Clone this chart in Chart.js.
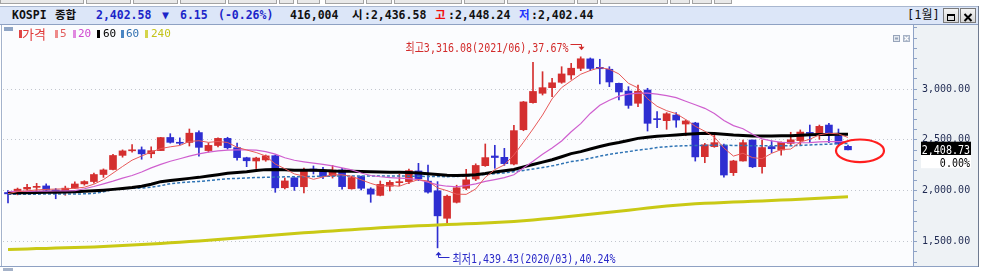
<!DOCTYPE html>
<html lang="ko"><head><meta charset="utf-8">
<title>KOSPI 종합</title>
<script src="https://cdn.jsdelivr.net/npm/chart.js@4.4.1/dist/chart.umd.min.js"></script>
<style>
html,body{margin:0;padding:0;background:#fff;}
body{width:981px;height:271px;position:relative;overflow:hidden;font-family:"DejaVu Sans Mono","Noto Sans CJK KR",monospace;}
.tb{position:absolute;top:0;height:3px;background:#e9e9e9;border:1px solid #a3a3a3;border-top:none;}
#hdr{position:absolute;left:0;top:6px;width:978px;height:17px;background:#dce6f8;border-top:1px solid #a9b7cf;border-bottom:1px solid #8ea1c3;}
.h{position:absolute;top:7px;line-height:17px;font-size:11.5px;font-weight:bold;color:#111;white-space:nowrap;}
.bl{color:#1b25c9;}
.lg{position:absolute;top:27px;line-height:14px;font-size:11px;white-space:nowrap;}
.mk{position:absolute;top:30px;width:3px;height:8px;}
#cv{position:absolute;left:0;top:25px;}
.btn{position:absolute;top:8px;width:14px;height:13px;border:1px solid #7a7a7a;background:linear-gradient(#f4f4f4,#d6d6d6);}
.ico{position:absolute;top:27px;width:7px;height:7px;}
</style></head><body>
<div id="tbar"></div>
<div id="hdr"></div>
<span class="h" style="left:12px">KOSPI</span>
<span class="h" style="left:55px">종합</span>
<span class="h bl" style="left:96px" id="hPrice"></span>
<span class="h bl" style="left:162px">▼</span>
<span class="h bl" style="left:180px" id="hChg"></span>
<span class="h bl" style="left:218px" id="hPct"></span>
<span class="h" style="left:290px" id="hVol"></span>
<span class="h" style="left:352px">시</span><span class="h" style="left:364px" id="hOpen"></span>
<span class="h" style="left:435px;color:#f01010">고</span><span class="h" style="left:448px" id="hHigh"></span>
<span class="h" style="left:519px;color:#2233ff">저</span><span class="h" style="left:531px" id="hLow"></span>
<span class="h" style="left:907px;font-weight:normal;font-size:12px">[1월]</span>
<div class="btn" style="left:943px"><svg width="14" height="13"><rect x="3.5" y="3.5" width="7" height="6" fill="none" stroke="#000"/><rect x="3" y="3" width="8" height="2" fill="#000"/></svg></div>
<div class="btn" style="left:960px"><svg width="14" height="13"><path d="M3.5 3 L10.5 10 M10.5 3 L3.5 10" stroke="#000" stroke-width="2"/></svg></div>

<canvas id="cv" width="981" height="241"></canvas>

<div style="position:absolute;left:4px;top:27px;width:9px;height:4px;background:#8fa5c5"></div>
<div class="mk" style="left:19px;background:#e04444"></div><span class="lg" style="left:22px;color:#e03a3a;font-size:13px;font-family:'Noto Sans CJK KR'">가격</span>
<div class="mk" style="left:55px;background:#ee8a8a"></div><span class="lg" style="left:60px;color:#e25c5c">5</span>
<div class="mk" style="left:73px;background:#e088e0"></div><span class="lg" style="left:78px;color:#d048d0">20</span>
<div class="mk" style="left:97px;background:#000"></div><span class="lg" style="left:103px;color:#000">60</span>
<div class="mk" style="left:121px;background:#4a86c4"></div><span class="lg" style="left:126px;color:#2f6fb0">60</span>
<div class="mk" style="left:145px;background:#d4d44a"></div><span class="lg" style="left:151px;color:#c3c318">240</span>

<div class="ico" style="left:893px"><svg width="7" height="7"><rect x="0.5" y="0.5" width="6" height="6" fill="#e3e8ef" stroke="#97a4ba"/><rect x="2" y="2.5" width="3" height="2" fill="#97a4ba"/></svg></div>
<div class="ico" style="left:903px"><svg width="7" height="7"><rect x="0" y="0" width="7" height="7" fill="#a7b3c6"/><path d="M1.5 1.5 L5.5 5.5 M5.5 1.5 L1.5 5.5" stroke="#fff" stroke-width="1.2"/></svg></div>

<div style="position:absolute;left:0;top:266px;width:979px;height:1px;background:#8ea1c3"></div>
<div style="position:absolute;left:3px;top:268px;width:10px;height:3px;background:#a5b2c8"></div>
<div style="position:absolute;left:978px;top:6px;width:1px;height:261px;background:#6f7b90"></div>

<script>
// ---------------- data ----------------
const months = [
 '2016/06','2016/07','2016/08','2016/09','2016/10','2016/11','2016/12',
 '2017/01','2017/02','2017/03','2017/04','2017/05','2017/06','2017/07','2017/08','2017/09','2017/10','2017/11','2017/12',
 '2018/01','2018/02','2018/03','2018/04','2018/05','2018/06','2018/07','2018/08','2018/09','2018/10','2018/11','2018/12',
 '2019/01','2019/02','2019/03','2019/04','2019/05','2019/06','2019/07','2019/08','2019/09','2019/10','2019/11','2019/12',
 '2020/01','2020/02','2020/03','2020/04','2020/05','2020/06','2020/07','2020/08','2020/09','2020/10','2020/11','2020/12',
 '2021/01','2021/02','2021/03','2021/04','2021/05','2021/06','2021/07','2021/08','2021/09','2021/10','2021/11','2021/12',
 '2022/01','2022/02','2022/03','2022/04','2022/05','2022/06','2022/07','2022/08','2022/09','2022/10','2022/11','2022/12',
 '2023/01','2023/02','2023/03','2023/04','2023/05','2023/06','2023/07','2023/08','2023/09','2023/10'];

const openP = [1983,1970,2017,2034,2048,2008,1984,
 2026,2068,2091,2160,2209,2348,2393,2403,2364,2395,2524,2476,
 2475,2572,2395,2445,2515,2424,2325,2293,2303,2345,2030,2128,
 2040,2214,2200,2145,2204,2020,2140,2018,1955,2045,2080,2090,
 2195,2095,2000,1730,1887,2025,2116,2247,2342,2329,2263,2600,
 2866,2958,3013,3066,3138,3203,3296,3213,3194,3056,2980,2860,
 2990,2707,2689,2744,2656,2666,2335,2434,2444,2178,2293,2499,
 2237,2434,2401,2466,2493,2572,2565,2646,2541,2436.58];

const highP = [2001,2027,2063,2073,2068,2022,2046,
 2088,2099,2175,2215,2358,2402,2453,2431,2432,2525,2561,2520,
 2607,2590,2470,2520,2526,2470,2330,2330,2352,2352,2126,2129,
 2224,2244,2230,2250,2221,2144,2145,2030,2096,2100,2163,2214,
 2270,2253,2090,1957,2055,2211,2265,2460,2447,2417,2643,2878,
 3262,3170,3105,3219,3252,3316.08,3305,3292,3219,3059,3023,3039,
 3007,2777,2768,2768,2696,2673,2466,2558,2460,2300,2499,2499,
 2499,2492,2480,2575,2598,2646,2646,2663,2607,2448.24];

const lowP = [1880,1960,2005,1988,2000,1922,1956,
 2023,2055,2075,2132,2204,2330,2380,2310,2324,2394,2468,2453,
 2440,2340,2380,2430,2410,2300,2237,2218,2290,1985,2018,2004,
 1978,2165,2120,2125,2016,2016,2008,1887,1950,1998,2050,2070,
 2100,1976,1439.43,1664,1880,2010,2100,2240,2221,2250,2255,2590,
 2860,2941,2925,3056,3095,3180,3180,3050,3023,2892,2810,2826,
 2587,2620,2604,2624,2541,2292,2276,2427,2133,2150,2290,2228,
 2172,2375,2350,2450,2450,2473,2506,2473,2450,2402.44];

const closeP = [1970,2016,2034,2043,2008,1983,2026,
 2067,2091,2160,2205,2347,2392,2402,2363,2394,2523,2476,2467,
 2566,2427,2446,2515,2423,2326,2295,2322,2343,2029,2097,2041,
 2205,2195,2141,2204,2041,2130,2025,1967,2063,2083,2087,2198,
 2119,1987,1754,1947,2030,2108,2249,2326,2327,2267,2591,2873,
 2976,3013,3061,3148,3204,3297,3202,3199,3069,2971,2839,2978,
 2663,2699,2757,2695,2686,2333,2452,2473,2155,2293,2473,2236,
 2425,2413,2477,2501,2577,2564,2633,2556,2465,2402.58];

const ma5 = [1972,1992,1999,2009,2014,2017,2019,
 2025,2035,2065,2110,2174,2239,2301,2342,2380,2415,2432,2445,
 2485,2492,2476,2484,2475,2427,2401,2376,2342,2263,2217,2166,
 2143,2113,2136,2157,2157,2142,2108,2073,2045,2054,2045,2080,
 2110,2095,2029,2001,1967,1965,2018,2132,2208,2255,2352,2477,
 2607,2744,2903,3014,3080,3145,3182,3210,3194,3148,3056,3011,
 2904,2830,2787,2758,2700,2634,2585,2528,2420,2341,2369,2326,
 2316,2368,2405,2410,2479,2506,2550,2566,2559,2524];

const ma20 = [1993,1994,1995,1996,1997,1998,1999,
 2002,2020,2042,2068,2095,2125,2150,2185,2225,2260,2290,2315,
 2340,2362,2380,2393,2400,2402,2402,2400,2385,2360,2325,2300,
 2285,2272,2260,2245,2225,2205,2175,2150,2138,2130,2124,2120,
 2110,2085,2058,2045,2040,2050,2068,2092,2110,2130,2158,2225,
 2290,2360,2420,2490,2580,2660,2760,2840,2890,2930,2950,2960,
 2960,2950,2935,2915,2880,2845,2810,2760,2690,2640,2610,2555,
 2510,2490,2475,2472,2472,2474,2480,2483,2484,2484];

const ma60 = [1980,1981,1982,1983,1985,1986,1988,
 1991,1995,2000,2006,2014,2022,2032,2045,2065,2090,2102,2112,
 2122,2132,2145,2158,2172,2180,2188,2200,2208,2210,2206,2202,
 2203,2203,2200,2195,2193,2191,2189,2187,2185,2183,2182,2180,
 2175,2168,2160,2153,2150,2153,2158,2170,2185,2198,2210,2235,
 2258,2282,2305,2335,2365,2385,2410,2435,2458,2475,2495,2515,
 2527,2535,2542,2548,2555,2560,2565,2562,2556,2548,2543,2538,
 2538,2538,2540,2542,2546,2550,2552,2554,2555,2555];

const ma60b = [1966,1966,1967,1967,1968,1968,1968,
 1969,1970,1975,1990,2012,2022,2025,2027,2035,2050,2070,2080,
 2086,2092,2100,2110,2118,2122,2126,2130,2133,2135,2137,2138,
 2139,2141,2143,2144,2145,2145,2145,2145,2145,2145,2145,2144,
 2143,2141,2140,2139,2140,2145,2152,2160,2168,2176,2188,2200,
 2213,2228,2245,2265,2287,2300,2320,2340,2358,2372,2385,2400,
 2410,2425,2433,2440,2443,2445,2446,2447,2447,2446,2445,2443,
 2443,2443,2443,2443,2446,2450,2455,2458,2462,2466];

const ma240 = [1424,1427,1429,1432,1434,1437,1440,
 1443,1446,1449,1453,1458,1463,1468,1473,1478,1483,1489,1495,
 1501,1507,1514,1521,1529,1536,1544,1551,1559,1566,1574,1581,
 1588,1594,1600,1606,1612,1618,1624,1630,1636,1642,1647,1652,
 1656,1660,1664,1668,1672,1676,1680,1684,1688,1693,1699,1706,
 1714,1722,1731,1740,1750,1760,1770,1780,1790,1800,1810,1820,
 1830,1840,1850,1858,1865,1872,1877,1881,1885,1889,1893,1897,
 1901,1905,1909,1913,1918,1922,1927,1932,1937,1942];

const majorTicks = [1500, 2000, 2500, 3000];
const prevClose = 2408.73;
const prevPctLabel = '0.00%';
const hiPct = '37.67%';
const loPct = '40.24%';
const header = {price: 2402.58, chg: 6.15, pct: '(-0.26%)', vol: '416,004'};

// -------------- helpers ---------------
const fmt = v => v.toLocaleString('en-US', {minimumFractionDigits: 2, maximumFractionDigits: 2});
document.getElementById('hPrice').textContent = fmt(header.price);
document.getElementById('hChg').textContent = fmt(header.chg);
document.getElementById('hPct').textContent = header.pct;
document.getElementById('hVol').textContent = header.vol;
document.getElementById('hOpen').textContent = ':' + fmt(openP[openP.length-1]);
document.getElementById('hHigh').textContent = ':' + fmt(highP[highP.length-1]);
document.getElementById('hLow').textContent = ':' + fmt(lowP[lowP.length-1]);

// toolbar button strip (decoration)
[[0,84],[86,131],[133,178],[180,226],[228,277],[279,294],[297,320],[325,364],[366,392],[394,462],
 [464,505],[507,575],[577,598],[600,668],[670,690],[692,712],[714,732]].forEach(([a,b])=>{
  const d=document.createElement('div'); d.className='tb'; d.style.left=a+'px'; d.style.width=(b-a-2)+'px';
  document.getElementById('tbar').appendChild(d);
});

const UP = '#d42f2f', DOWN = '#2e2ed1';
const candleColor = months.map((m,i) => closeP[i] >= openP[i] ? UP : DOWN);
const pts = arr => months.map((m,i) => ({x: i, y: arr[i]}));

function narrowText(ctx, text, x, y, align, color, size) {
  ctx.save();
  ctx.translate(x, y);
  ctx.scale(0.77, 1);
  ctx.font = size + 'px "DejaVu Sans Mono", "Noto Sans CJK KR", monospace';
  ctx.textAlign = align;
  ctx.textBaseline = 'alphabetic';
  ctx.fillStyle = color;
  ctx.fillText(text, 0, 0);
  ctx.restore();
}

const deco = {
  id: 'deco',
  beforeDraw(chart) {
    const {ctx, chartArea: a, width, height} = chart;
    ctx.save();
    ctx.fillStyle = '#ffffff'; ctx.fillRect(0, 0, width, height);
    ctx.fillStyle = '#fbfcfe'; ctx.fillRect(a.left, a.top, a.right - a.left, a.bottom - a.top);
    ctx.fillStyle = '#eef2f5'; ctx.fillRect(a.right, 0, 978 - a.right, height);
    ctx.fillStyle = '#8ea2c6'; ctx.fillRect(a.right, 0, 1, height);
    ctx.fillStyle = '#a4b3cc'; ctx.fillRect(1, 0, 1, height);
    ctx.restore();
  },
  afterDatasetsDraw(chart) {
    const {ctx} = chart;
    const xs = chart.scales.x, ys = chart.scales.y;
    // highest high
    let hi = 0, lo = 0;
    highP.forEach((v,i) => { if (v > highP[hi]) hi = i; });
    lowP.forEach((v,i) => { if (v < lowP[lo]) lo = i; });
    const hx = Math.round(xs.getPixelForValue(hi)) + 0.5, hy = ys.getPixelForValue(highP[hi]);
    const red = '#d22b2b';
    ctx.save();
    ctx.strokeStyle = red; ctx.fillStyle = red; ctx.lineWidth = 1;
    const ay = Math.round(hy - 13) + 0.5;
    ctx.beginPath(); ctx.moveTo(hx - 11, ay); ctx.lineTo(hx, ay); ctx.lineTo(hx, hy - 9); ctx.stroke();
    ctx.beginPath(); ctx.moveTo(hx - 3, hy - 10); ctx.lineTo(hx + 3, hy - 10); ctx.lineTo(hx, hy - 6.5); ctx.closePath(); ctx.fill();
    narrowText(ctx, '최고' + fmt(highP[hi]) + '(' + months[hi] + '),' + hiPct, hx - 13, hy - 5.3, 'right', red, 13);
    // lowest low
    const blue = '#2a2ac8';
    const lx = Math.round(xs.getPixelForValue(lo)) + 0.5, ly = ys.getPixelForValue(lowP[lo]);
    ctx.strokeStyle = blue; ctx.fillStyle = blue;
    const by = Math.round(ly + 9) + 0.5;
    ctx.beginPath(); ctx.moveTo(lx, ly + 6); ctx.lineTo(lx, by); ctx.lineTo(lx + 11, by); ctx.stroke();
    ctx.beginPath(); ctx.moveTo(lx - 3, ly + 7.5); ctx.lineTo(lx + 3, ly + 7.5); ctx.lineTo(lx, ly + 4); ctx.closePath(); ctx.fill();
    narrowText(ctx, '최저' + fmt(lowP[lo]) + '(' + months[lo] + '),' + loPct, lx + 14, ly + 14.7, 'left', blue, 13);
    // red ellipse around latest candle
    const n = months.length - 1;
    const ex = xs.getPixelForValue(n) + 12, ey = ys.getPixelForValue(closeP[n]) + 1;
    ctx.strokeStyle = '#ff1e1e'; ctx.lineWidth = 2.2;
    ctx.beginPath(); ctx.ellipse(ex, ey, 24, 11.3, 0, 0, Math.PI * 2); ctx.stroke();
    ctx.restore();
  },
  afterDraw(chart) {
    const {ctx} = chart;
    const ys = chart.scales.y;
    const yc = ys.getPixelForValue(prevClose);
    ctx.save();
    ctx.fillStyle = '#000'; ctx.fillRect(921, yc - 7.5, 50, 13.3);
    narrowText(ctx, fmt(prevClose), 970, yc + 4.6, 'right', '#ffffff', 13);
    ctx.fillStyle = '#fff'; ctx.fillRect(921, yc + 5.8, 50, 13.2);
    narrowText(ctx, prevPctLabel, 970, yc + 17.8, 'right', '#000000', 13);
    ctx.restore();
  }
};

new Chart(document.getElementById('cv'), {
  type: 'bar',
  data: {
    datasets: [
      {type: 'line', label: '240', data: pts(ma240), borderColor: '#c9c915', borderWidth: 3, pointRadius: 0, tension: 0, order: 5},
      {type: 'line', label: '60b', data: pts(ma60b), borderColor: '#2f74b5', borderWidth: 1.5, borderDash: [3, 2], pointRadius: 0, tension: 0, order: 4},
      {type: 'line', label: '60', data: pts(ma60), borderColor: '#000000', borderWidth: 3, pointRadius: 0, tension: 0, order: 3},
      {type: 'line', label: '20', data: pts(ma20), borderColor: '#cf5fcf', borderWidth: 1.2, pointRadius: 0, tension: 0, order: 2},
      {type: 'line', label: '5', data: pts(ma5), borderColor: '#e85a5a', borderWidth: 1, pointRadius: 0, tension: 0, order: 1},
      {type: 'bar', label: 'wick', data: months.map((m,i) => ({x: i, y: [lowP[i], highP[i]]})),
       backgroundColor: candleColor, barThickness: 1, grouped: false, borderWidth: 0, order: 21},
      {type: 'bar', label: '가격', data: months.map((m,i) => ({x: i, y: [openP[i], closeP[i]]})),
       backgroundColor: candleColor, barThickness: 7, grouped: false, borderWidth: 0, minBarLength: 1, order: 20}
    ]
  },
  options: {
    responsive: false,
    animation: false,
    devicePixelRatio: 1,
    layout: {padding: {left: 3, right: 0, top: 0, bottom: 0}},
    plugins: {legend: {display: false}, tooltip: {enabled: false}},
    scales: {
      x: {type: 'linear', min: -0.524, max: 94.81, display: false, offset: false, grid: {display: false}},
      y: {
        position: 'right', min: 1261.3, max: 3628.7,
        afterFit(s) { s.width = 68; s.paddingTop = 0; s.paddingBottom = 0; },
        ticks: {
          stepSize: 100, autoSkip: false, includeBounds: false, padding: 5, maxTicksLimit: 100,
          color: '#1f2a52', font: {family: "'DejaVu Sans Mono', monospace", size: 10},
          callback: v => majorTicks.includes(v) ? fmt(v) : ''
        },
        grid: {
          color: c => (c.tick && majorTicks.includes(c.tick.value)) ? '#c2c6ce' : 'rgba(0,0,0,0)',
          drawTicks: true, tickLength: 4, tickColor: '#8ea2c6', tickWidth: 1, lineWidth: 1
        },
        border: {display: false, dash: [1, 3]}
      }
    }
  },
  plugins: [deco]
});
</script>
</body></html>
